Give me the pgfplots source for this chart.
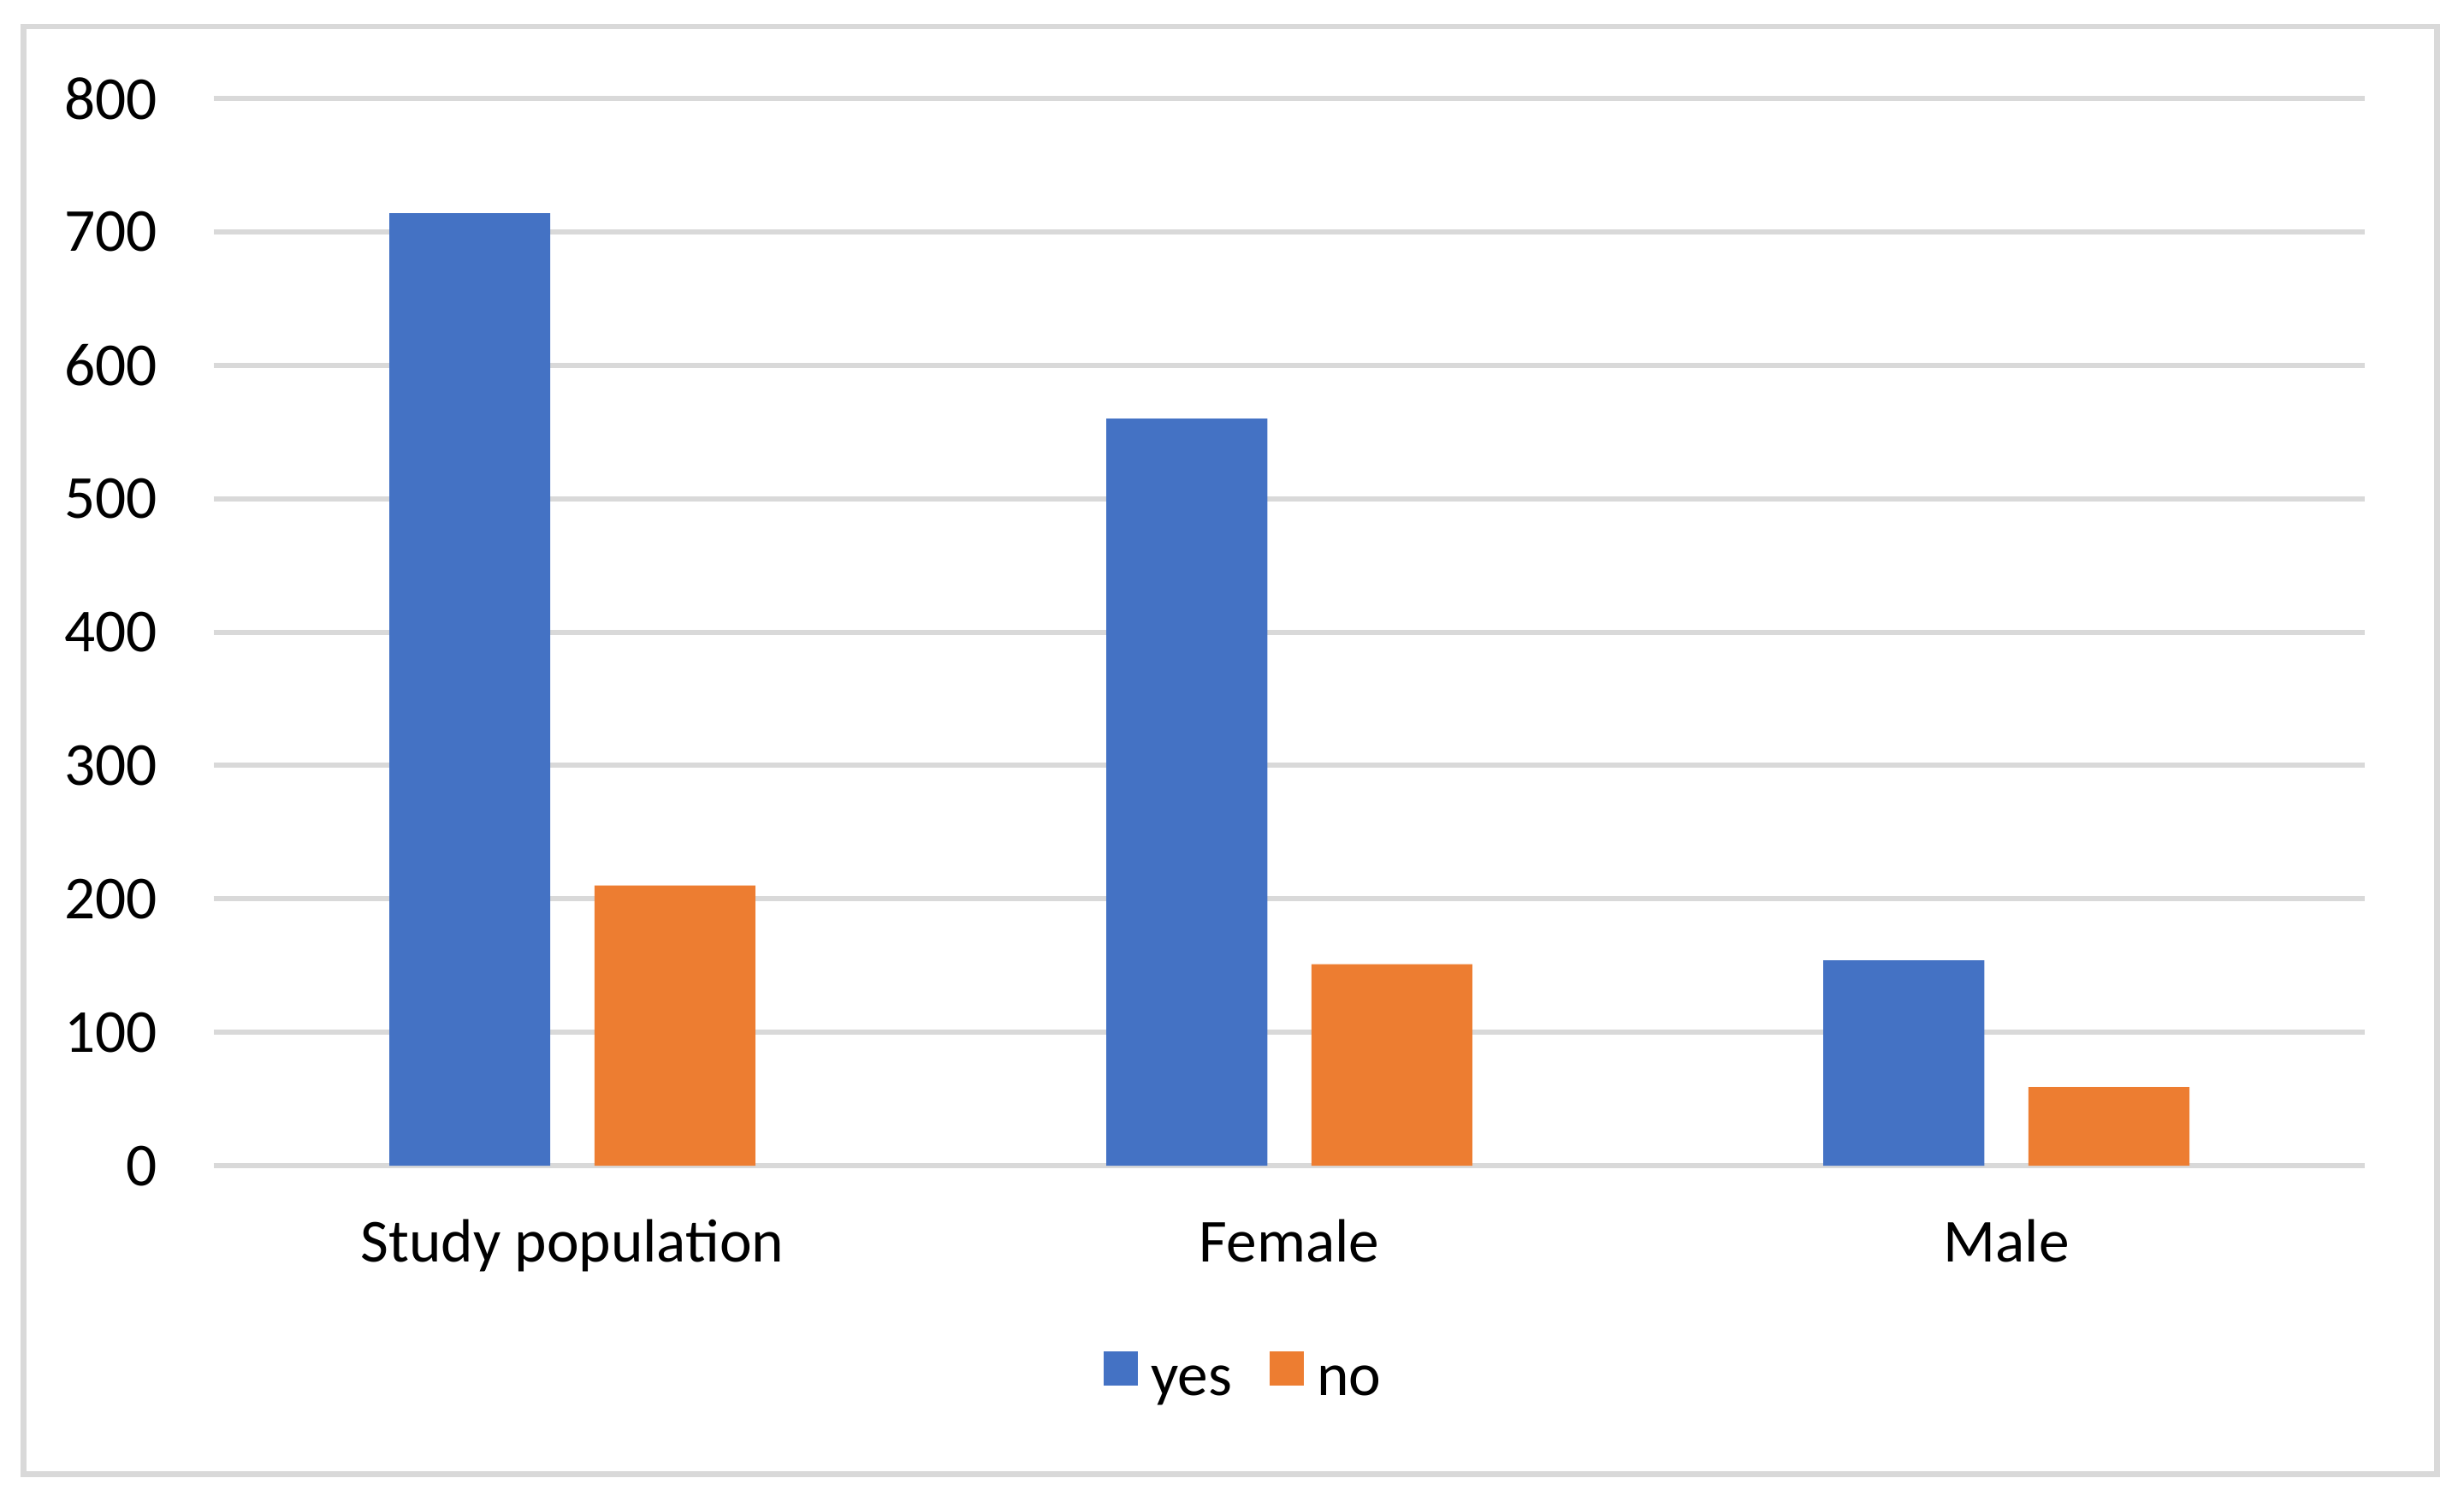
\documentclass[border=0pt]{standalone}
\usepackage{fontspec}
\setmainfont{Carlito}
\usepackage{pgfplots}
\pgfplotsset{compat=1.18}

\definecolor{yesblue}{HTML}{4472C4}
\definecolor{noorange}{HTML}{ED7D31}
\definecolor{gridgray}{HTML}{D9D9D9}

\begin{document}
\fontsize{11pt}{13pt}\selectfont
\begin{tikzpicture}
\useasboundingbox (0,0) rectangle (15.6cm,9.463cm);
\draw[gridgray, line width=1.05pt] (0.149cm,0.135cm) rectangle (15.43cm,9.295cm);
\begin{axis}[
    at={(1.354cm,2.085cm)}, anchor=south west,
    scale only axis,
    width=13.618cm, height=6.755cm,
    ybar, bar width=0.2245,
    xmin=-0.5, xmax=2.5,
    ymin=0, ymax=800,
    ytick={0,100,...,800},
    xtick=data,
    xticklabels={Study population, Female, Male},
    axis line style={draw=none},
    ymajorgrids,
    grid style={gridgray, line width=0.92pt},
    major tick length=0pt,
    /pgf/number format/assume math mode=true,
    ticklabel style={font=\fontsize{11pt}{13pt}\selectfont, inner sep=0pt},
    yticklabel style={anchor=east, xshift=-0.35cm},
    xticklabel style={anchor=base, yshift=-0.61cm},
    legend columns=2,
    legend style={at={(axis description cs:0.413,-0.199)}, anchor=west,
        draw=none, inner sep=0pt, column sep=0.085cm,
        font=\fontsize{11pt}{13pt}\selectfont,
        nodes={inner sep=0pt},
        /tikz/column 2/.style={column sep=0.235cm}},
    legend image code/.code={\fill[#1] (0cm,0cm) rectangle (0.217cm,0.217cm);},
]
\addplot[fill=yesblue, draw=none, bar shift=-0.143] coordinates {(0,714) (1,560) (2,154)};
\addplot[fill=noorange, draw=none, bar shift=0.143] coordinates {(0,210) (1,151) (2,59)};
\legend{yes, no}
\end{axis}
\end{tikzpicture}
\end{document}
